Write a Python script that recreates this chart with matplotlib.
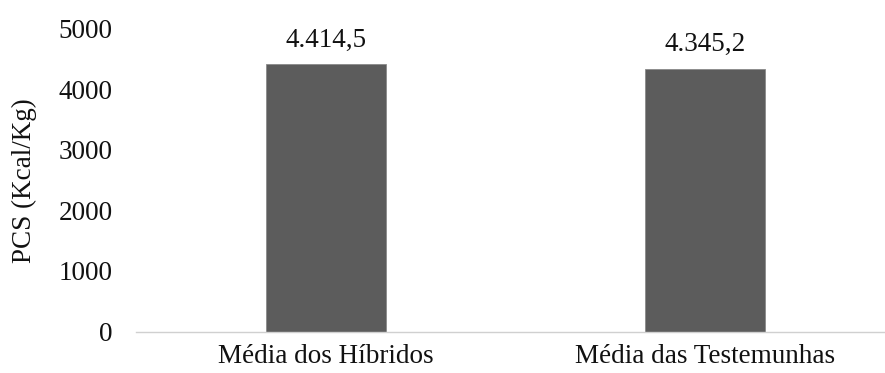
import matplotlib
matplotlib.use("Agg")
import matplotlib.pyplot as plt

categories = ["Média dos Híbridos", "Média das Testemunhas"]
values = [4414.5, 4345.2]
value_labels = ["4.414,5", "4.345,2"]
yticks = [0, 1000, 2000, 3000, 4000, 5000]

plt.rcParams['font.family'] = ['Liberation Serif', 'DejaVu Serif']

W, H = 885, 373
fig = plt.figure(figsize=(W/100, H/100), dpi=100)
left, right = 136, 895
top, bottom = 29, 331.5
ax = fig.add_axes([left/W, (H-bottom)/H, (right-left)/W, (bottom-top)/H])

FS = 19.5
x = list(range(len(categories)))
ax.bar(x, values, width=0.316, color="#5c5c5c", edgecolor="#8a8a8a", linewidth=0.6, zorder=2)
for xi, v, lab in zip(x, values, value_labels):
    ax.annotate(lab, (xi, v), xytext=(0, 12), textcoords="offset pixels",
                ha="center", va="bottom", fontsize=FS, color="#111111")

ax.set_xlim(-0.5, len(categories) - 0.5)
ax.set_ylim(0, 5000)
ax.set_yticks(yticks)
ax.set_yticklabels([str(t) for t in yticks], fontsize=FS, color="#111111")
ax.set_xticks(x)
ax.set_xticklabels(categories, fontsize=FS, color="#111111")
ax.tick_params(axis="both", length=0)
ax.tick_params(axis="y", pad=17)
ax.tick_params(axis="x", pad=9)
for s in ["top", "right", "left"]:
    ax.spines[s].set_visible(False)
ax.spines["bottom"].set_color("#d0d0d0")
ax.spines["bottom"].set_linewidth(1.0)
ax.set_ylabel("PCS (Kcal/Kg)", fontsize=FS, color="#111111")
ax.yaxis.set_label_coords(-(left-37)/(right-left), 0.5)

fig.savefig("out.png", dpi=100)
